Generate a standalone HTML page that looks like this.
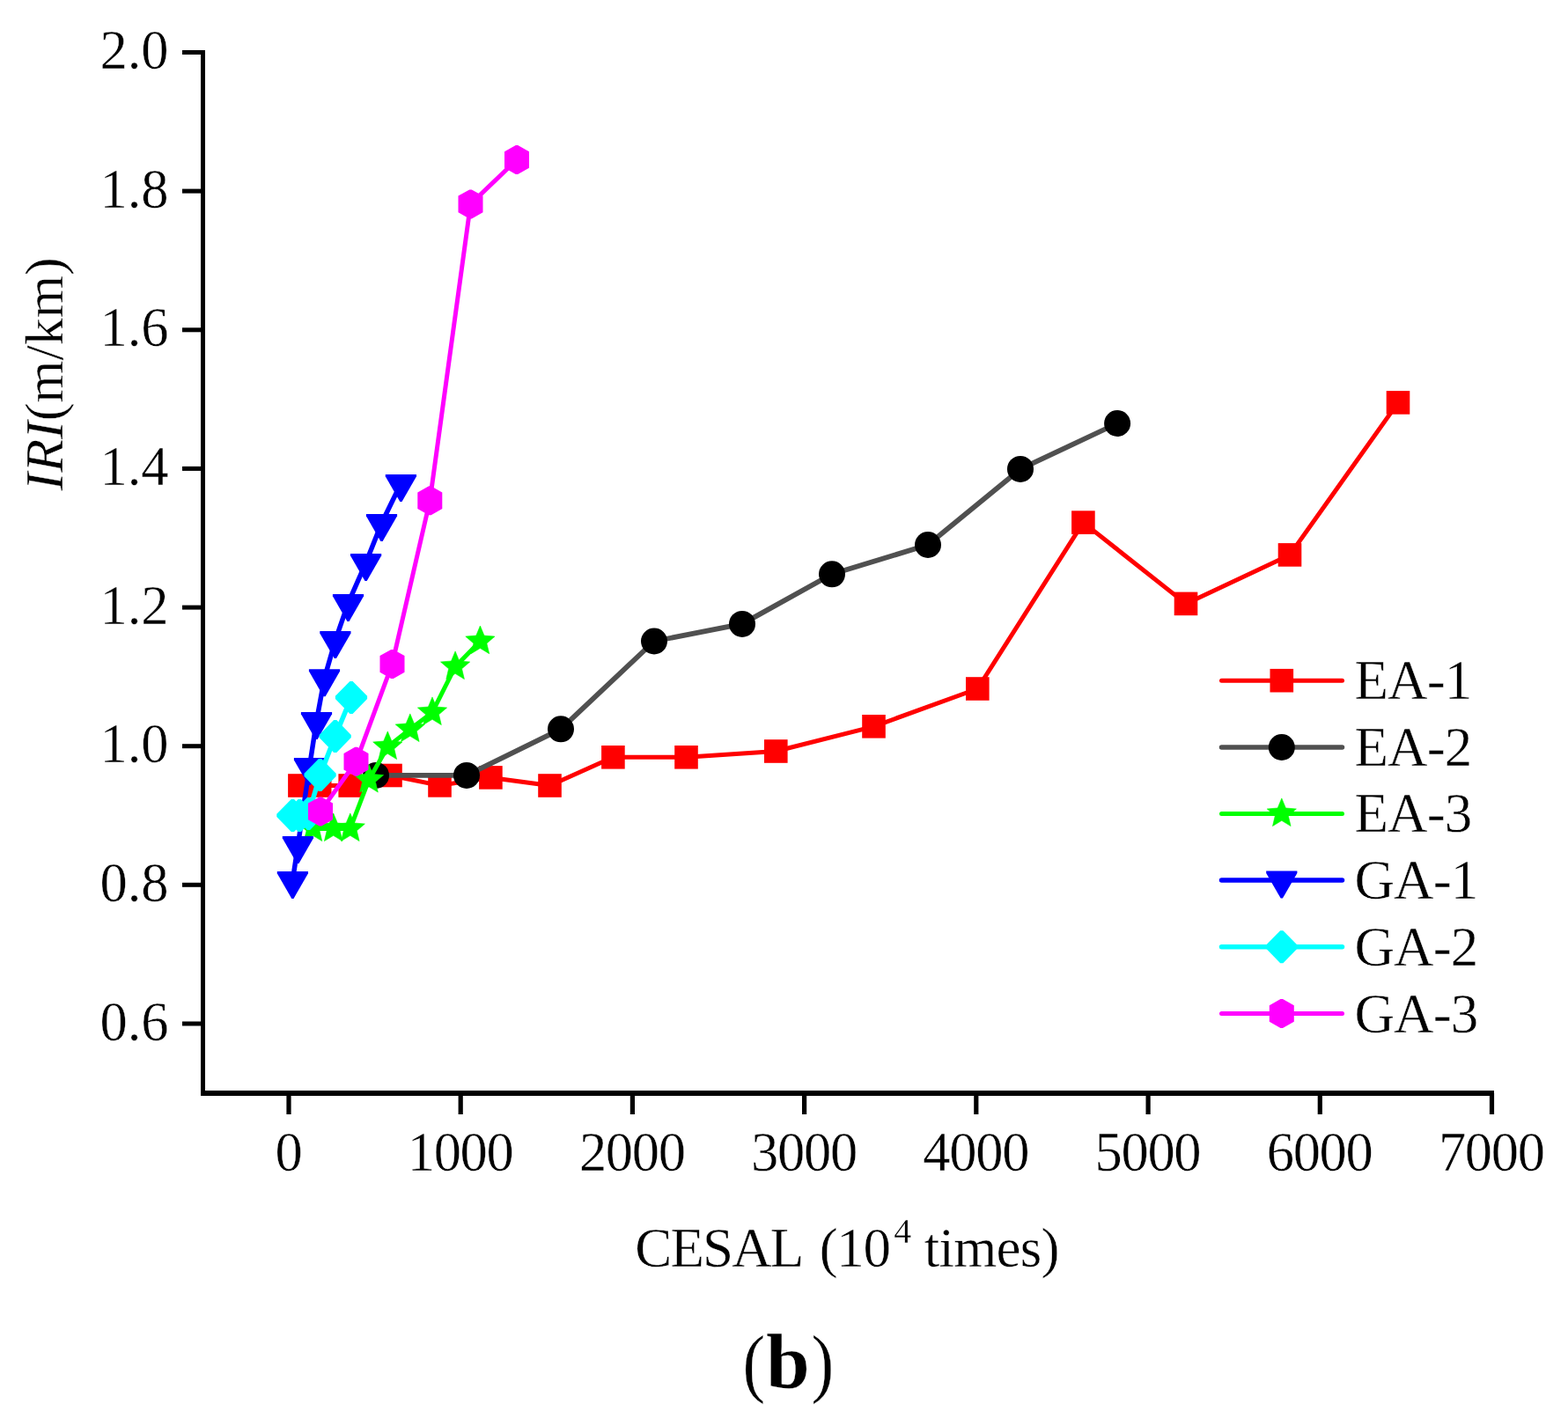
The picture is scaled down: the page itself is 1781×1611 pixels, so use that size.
<!DOCTYPE html><html><head><meta charset="utf-8"><style>html,body{margin:0;padding:0;background:#fff;}svg{display:block;}text{font-family:"Liberation Serif","Times New Roman",serif;fill:#000;stroke:#fff;stroke-width:0.4px;}</style></head><body>
<svg width="1781" height="1611" viewBox="0 0 1781 1611">
<rect width="1781" height="1611" fill="#fff"/>
<path d="M340.4 892.5 L363.2 892.5 L397.7 892.5 L443.5 881 L499.5 892.4 L557.4 883.4 L624.5 892.5 L696.4 860.3 L779.5 860.3 L881.3 853.5 L992.5 825.3 L1110.3 782.5 L1230.4 593.6 L1347 685.9 L1465 630.4 L1588 457.4" fill="none" stroke="#ff0000" stroke-width="5" stroke-linejoin="round" stroke-linecap="round"/>
<rect x="327.1" y="879.2" width="26.6" height="26.6" fill="#ff0000"/><rect x="349.9" y="879.2" width="26.6" height="26.6" fill="#ff0000"/><rect x="384.4" y="879.2" width="26.6" height="26.6" fill="#ff0000"/><rect x="430.2" y="867.7" width="26.6" height="26.6" fill="#ff0000"/><rect x="486.2" y="879.1" width="26.6" height="26.6" fill="#ff0000"/><rect x="544.1" y="870.1" width="26.6" height="26.6" fill="#ff0000"/><rect x="611.2" y="879.2" width="26.6" height="26.6" fill="#ff0000"/><rect x="683.1" y="847" width="26.6" height="26.6" fill="#ff0000"/><rect x="766.2" y="847" width="26.6" height="26.6" fill="#ff0000"/><rect x="868" y="840.2" width="26.6" height="26.6" fill="#ff0000"/><rect x="979.2" y="812" width="26.6" height="26.6" fill="#ff0000"/><rect x="1097" y="769.2" width="26.6" height="26.6" fill="#ff0000"/><rect x="1217.1" y="580.3" width="26.6" height="26.6" fill="#ff0000"/><rect x="1333.7" y="672.6" width="26.6" height="26.6" fill="#ff0000"/><rect x="1451.7" y="617.1" width="26.6" height="26.6" fill="#ff0000"/><rect x="1574.7" y="444.1" width="26.6" height="26.6" fill="#ff0000"/>
<path d="M427 880.9 L530 880.9 L637 828.3 L743 728.5 L843 708.9 L945 652.3 L1054 619 L1159 532.9 L1269.1 481" fill="none" stroke="#505050" stroke-width="5.8" stroke-linejoin="round" stroke-linecap="round"/>
<circle cx="427" cy="880.9" r="15" fill="#000000"/><circle cx="530" cy="880.9" r="15" fill="#000000"/><circle cx="637" cy="828.3" r="15" fill="#000000"/><circle cx="743" cy="728.5" r="15" fill="#000000"/><circle cx="843" cy="708.9" r="15" fill="#000000"/><circle cx="945" cy="652.3" r="15" fill="#000000"/><circle cx="1054" cy="619" r="15" fill="#000000"/><circle cx="1159" cy="532.9" r="15" fill="#000000"/><circle cx="1269.1" cy="481" r="15" fill="#000000"/>
<path d="M355.5 941.4 L378.7 941.4 L397.8 941.4 L419 885.9 L440.3 848.4 L465.8 828.4 L491 809.4 L517.1 757.4 L545.4 728.5" fill="none" stroke="#00ff00" stroke-width="5" stroke-linejoin="round" stroke-linecap="round"/>
<polygon points="355.5,923.9 360.1,935 372.1,936 363,943.8 365.8,955.6 355.5,949.3 345.2,955.6 348,943.8 338.9,936 350.9,935" fill="#00ff00" stroke="#00ff00" stroke-width="0.6" stroke-linejoin="round"/><polygon points="378.7,923.9 383.3,935 395.3,936 386.2,943.8 389,955.6 378.7,949.3 368.4,955.6 371.2,943.8 362.1,936 374.1,935" fill="#00ff00" stroke="#00ff00" stroke-width="0.6" stroke-linejoin="round"/><polygon points="397.8,923.9 402.4,935 414.4,936 405.3,943.8 408.1,955.6 397.8,949.3 387.5,955.6 390.3,943.8 381.2,936 393.2,935" fill="#00ff00" stroke="#00ff00" stroke-width="0.6" stroke-linejoin="round"/><polygon points="419,868.4 423.6,879.5 435.6,880.5 426.5,888.3 429.3,900.1 419,893.8 408.7,900.1 411.5,888.3 402.4,880.5 414.4,879.5" fill="#00ff00" stroke="#00ff00" stroke-width="0.6" stroke-linejoin="round"/><polygon points="440.3,830.9 444.9,842 456.9,843 447.8,850.8 450.6,862.6 440.3,856.3 430,862.6 432.8,850.8 423.7,843 435.7,842" fill="#00ff00" stroke="#00ff00" stroke-width="0.6" stroke-linejoin="round"/><polygon points="465.8,810.9 470.4,822 482.4,823 473.3,830.8 476.1,842.6 465.8,836.3 455.5,842.6 458.3,830.8 449.2,823 461.2,822" fill="#00ff00" stroke="#00ff00" stroke-width="0.6" stroke-linejoin="round"/><polygon points="491,791.9 495.6,803 507.6,804 498.5,811.8 501.3,823.6 491,817.3 480.7,823.6 483.5,811.8 474.4,804 486.4,803" fill="#00ff00" stroke="#00ff00" stroke-width="0.6" stroke-linejoin="round"/><polygon points="517.1,739.9 521.7,751 533.7,752 524.6,759.8 527.4,771.6 517.1,765.3 506.8,771.6 509.6,759.8 500.5,752 512.5,751" fill="#00ff00" stroke="#00ff00" stroke-width="0.6" stroke-linejoin="round"/><polygon points="545.4,711 550,722.1 562,723.1 552.9,730.9 555.7,742.7 545.4,736.4 535.1,742.7 537.9,730.9 528.8,723.1 540.8,722.1" fill="#00ff00" stroke="#00ff00" stroke-width="0.6" stroke-linejoin="round"/>
<path d="M332.4 1000.2 L338.4 960.3 L351.5 871.4 L359.5 819.3 L368.5 770.5 L380.9 727.4 L395.5 685.2 L415.6 639.3 L433.5 594.2 L455.4 549.2" fill="none" stroke="#0000ff" stroke-width="5.5" stroke-linejoin="round" stroke-linecap="round"/>
<polygon points="314.8,989.9 350,989.9 350,992.2 333.5,1020.9 331.3,1020.9 314.8,992.2" fill="#0000ff"/><polygon points="320.8,950 356,950 356,952.3 339.5,981 337.3,981 320.8,952.3" fill="#0000ff"/><polygon points="333.9,861.1 369.1,861.1 369.1,863.4 352.6,892.1 350.4,892.1 333.9,863.4" fill="#0000ff"/><polygon points="341.9,809 377.1,809 377.1,811.3 360.6,840 358.4,840 341.9,811.3" fill="#0000ff"/><polygon points="350.9,760.2 386.1,760.2 386.1,762.5 369.6,791.2 367.4,791.2 350.9,762.5" fill="#0000ff"/><polygon points="363.3,717.1 398.5,717.1 398.5,719.4 382,748.1 379.8,748.1 363.3,719.4" fill="#0000ff"/><polygon points="377.9,674.9 413.1,674.9 413.1,677.2 396.6,705.9 394.4,705.9 377.9,677.2" fill="#0000ff"/><polygon points="398,629 433.2,629 433.2,631.3 416.7,660 414.5,660 398,631.3" fill="#0000ff"/><polygon points="415.9,583.9 451.1,583.9 451.1,586.2 434.6,614.9 432.4,614.9 415.9,586.2" fill="#0000ff"/><polygon points="437.8,538.9 473,538.9 473,541.2 456.5,569.9 454.3,569.9 437.8,541.2" fill="#0000ff"/>
<path d="M332.4 926.4 L340.3 926.4 L350.5 924.5 L363.6 880.4 L380.7 836.5 L399 792.4" fill="none" stroke="#00ffff" stroke-width="5.5" stroke-linejoin="round" stroke-linecap="round"/>
<polygon points="330.8,907.9 334,907.9 350.5,924.8 350.5,928 334,944.9 330.8,944.9 314.3,928 314.3,924.8" fill="#00ffff"/><polygon points="338.7,907.9 341.9,907.9 358.4,924.8 358.4,928 341.9,944.9 338.7,944.9 322.2,928 322.2,924.8" fill="#00ffff"/><polygon points="348.9,906 352.1,906 368.6,922.9 368.6,926.1 352.1,943 348.9,943 332.4,926.1 332.4,922.9" fill="#00ffff"/><polygon points="362,861.9 365.2,861.9 381.7,878.8 381.7,882 365.2,898.9 362,898.9 345.5,882 345.5,878.8" fill="#00ffff"/><polygon points="379.1,818 382.3,818 398.8,834.9 398.8,838.1 382.3,855 379.1,855 362.6,838.1 362.6,834.9" fill="#00ffff"/><polygon points="397.4,773.9 400.6,773.9 417.1,790.8 417.1,794 400.6,810.9 397.4,810.9 380.9,794 380.9,790.8" fill="#00ffff"/>
<path d="M364 921.9 L404.5 865.3 L445.5 754.4 L488.3 568.7 L534.5 231.9 L587 181.5" fill="none" stroke="#ff00ff" stroke-width="5" stroke-linejoin="round" stroke-linecap="round"/>
<polygon points="362.8,905.4 365.2,905.4 378,912.6 378,931.2 365.2,938.4 362.8,938.4 350,931.2 350,912.6" fill="#ff00ff"/><polygon points="403.2,848.8 405.8,848.8 418.5,856 418.5,874.6 405.8,881.8 403.2,881.8 390.5,874.6 390.5,856" fill="#ff00ff"/><polygon points="444.2,737.9 446.8,737.9 459.5,745.1 459.5,763.7 446.8,770.9 444.2,770.9 431.5,763.7 431.5,745.1" fill="#ff00ff"/><polygon points="487.1,552.2 489.6,552.2 502.3,559.4 502.3,578 489.6,585.2 487.1,585.2 474.3,578 474.3,559.4" fill="#ff00ff"/><polygon points="533.2,215.4 535.8,215.4 548.5,222.6 548.5,241.2 535.8,248.4 533.2,248.4 520.5,241.2 520.5,222.6" fill="#ff00ff"/><polygon points="585.8,165 588.2,165 601,172.2 601,190.8 588.2,198 585.8,198 573,190.8 573,172.2" fill="#ff00ff"/>
<g fill="#000">
<rect x="228" y="57" width="5" height="1188"/>
<rect x="228" y="1239" width="1469" height="6"/>
<rect x="207" y="57" width="24" height="5"/>
<rect x="207" y="214.6" width="24" height="5"/>
<rect x="207" y="372.3" width="24" height="5"/>
<rect x="207" y="529.9" width="24" height="5"/>
<rect x="207" y="687.6" width="24" height="5"/>
<rect x="207" y="845.2" width="24" height="5"/>
<rect x="207" y="1002.8" width="24" height="5"/>
<rect x="207" y="1160.5" width="24" height="5"/>
<rect x="325.4" y="1242" width="5.2" height="24"/>
<rect x="520.6" y="1242" width="5.2" height="24"/>
<rect x="715.8" y="1242" width="5.2" height="24"/>
<rect x="911" y="1242" width="5.2" height="24"/>
<rect x="1106.2" y="1242" width="5.2" height="24"/>
<rect x="1301.5" y="1242" width="5.2" height="24"/>
<rect x="1496.7" y="1242" width="5.2" height="24"/>
<rect x="1691.9" y="1242" width="5.2" height="24"/>
</g>
<text x="191.5" y="78" font-size="62.5" text-anchor="end">2.0</text>
<text x="191.5" y="235.6" font-size="62.5" text-anchor="end">1.8</text>
<text x="191.5" y="393.3" font-size="62.5" text-anchor="end">1.6</text>
<text x="191.5" y="550.9" font-size="62.5" text-anchor="end">1.4</text>
<text x="191.5" y="708.6" font-size="62.5" text-anchor="end">1.2</text>
<text x="191.5" y="866.2" font-size="62.5" text-anchor="end">1.0</text>
<text x="191.5" y="1023.8" font-size="62.5" text-anchor="end">0.8</text>
<text x="191.5" y="1181.5" font-size="62.5" text-anchor="end">0.6</text>
<text x="328" y="1329.7" font-size="62.5" text-anchor="middle">0</text>
<text x="522.6" y="1329.7" font-size="62.5" text-anchor="middle" letter-spacing="-1.3">1000</text>
<text x="717.8" y="1329.7" font-size="62.5" text-anchor="middle" letter-spacing="-1.3">2000</text>
<text x="913" y="1329.7" font-size="62.5" text-anchor="middle" letter-spacing="-1.3">3000</text>
<text x="1108.2" y="1329.7" font-size="62.5" text-anchor="middle" letter-spacing="-1.3">4000</text>
<text x="1303.4" y="1329.7" font-size="62.5" text-anchor="middle" letter-spacing="-1.3">5000</text>
<text x="1498.6" y="1329.7" font-size="62.5" text-anchor="middle" letter-spacing="-1.3">6000</text>
<text x="1693.8" y="1329.7" font-size="62.5" text-anchor="middle" letter-spacing="-1.3">7000</text>
<text y="1438.6" font-size="63"><tspan x="721.3" letter-spacing="-1.9">CESAL</tspan><tspan x="930.8" letter-spacing="-1.45">(10</tspan><tspan x="1049.8" letter-spacing="-0.76">times)</tspan></text>
<text x="1015.3" y="1412.3" font-size="40">4</text>
<text transform="translate(71,424.9) rotate(-90)" font-size="62" text-anchor="middle"><tspan font-style="italic">IRI</tspan>(m/km)</text>
<line x1="1387.5" y1="773.2" x2="1524.5" y2="773.2" stroke="#ff0000" stroke-width="5" stroke-linecap="round"/>
<rect x="1442.5" y="759.9" width="26.6" height="26.6" fill="#ff0000"/>
<text x="1538.5" y="793.8" font-size="63" letter-spacing="-0.9">EA-1</text>
<line x1="1387.5" y1="849" x2="1524.5" y2="849" stroke="#505050" stroke-width="5.5" stroke-linecap="round"/>
<circle cx="1455.8" cy="849" r="15" fill="#000000"/>
<text x="1538.5" y="869.8" font-size="63" letter-spacing="-0.9">EA-2</text>
<line x1="1387.5" y1="924.4" x2="1524.5" y2="924.4" stroke="#00ff00" stroke-width="5" stroke-linecap="round"/>
<polygon points="1455.8,906.9 1460.4,918 1472.4,919 1463.3,926.8 1466.1,938.6 1455.8,932.3 1445.5,938.6 1448.3,926.8 1439.2,919 1451.2,918" fill="#00ff00" stroke="#00ff00" stroke-width="0.6" stroke-linejoin="round"/>
<text x="1538.5" y="945.3" font-size="63" letter-spacing="-0.9">EA-3</text>
<line x1="1387.5" y1="999.9" x2="1524.5" y2="999.9" stroke="#0000ff" stroke-width="5.5" stroke-linecap="round"/>
<polygon points="1438.2,989.6 1473.4,989.6 1473.4,991.9 1456.9,1020.6 1454.7,1020.6 1438.2,991.9" fill="#0000ff"/>
<text x="1538.5" y="1021.3" font-size="63" letter-spacing="-0.9">GA-1</text>
<line x1="1387.5" y1="1075.7" x2="1524.5" y2="1075.7" stroke="#00ffff" stroke-width="5.5" stroke-linecap="round"/>
<polygon points="1454.2,1057.2 1457.4,1057.2 1473.9,1074.1 1473.9,1077.3 1457.4,1094.2 1454.2,1094.2 1437.7,1077.3 1437.7,1074.1" fill="#00ffff"/>
<text x="1538.5" y="1097.3" font-size="63" letter-spacing="-0.9">GA-2</text>
<line x1="1387.5" y1="1151.5" x2="1524.5" y2="1151.5" stroke="#ff00ff" stroke-width="5" stroke-linecap="round"/>
<polygon points="1454.5,1135 1457,1135 1469.8,1142.2 1469.8,1160.8 1457,1168 1454.5,1168 1441.8,1160.8 1441.8,1142.2" fill="#ff00ff"/>
<text x="1538.5" y="1173.2" font-size="63" letter-spacing="-0.9">GA-3</text>
<text transform="translate(843.6,1577) scale(0.888,1)" font-size="87">(</text>
<text x="869.9" y="1577" font-weight="bold" font-size="89.5">b</text>
<text transform="translate(921.5,1577) scale(0.888,1)" font-size="87">)</text>
</svg></body></html>
